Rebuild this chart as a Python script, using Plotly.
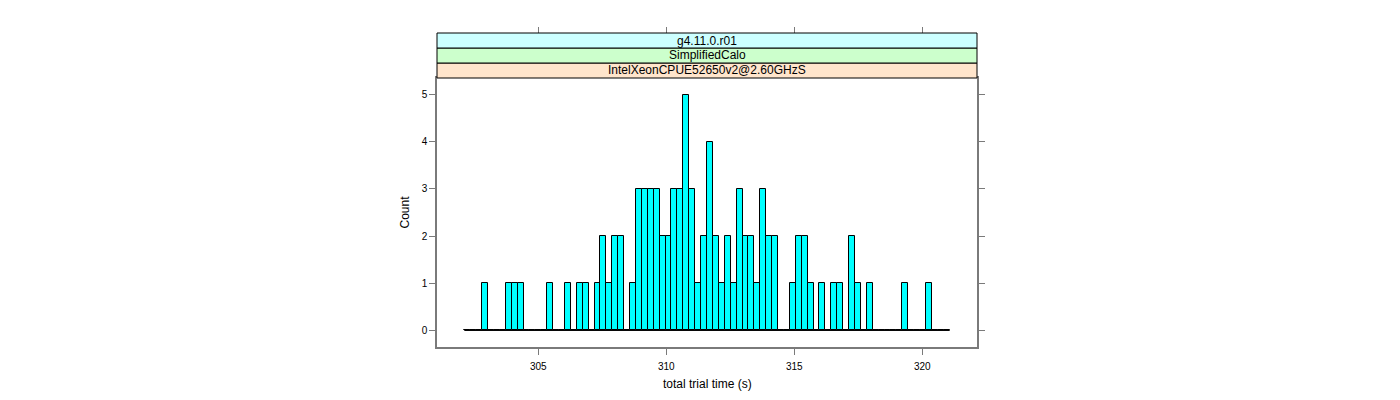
import numpy as np
import plotly.graph_objects as go

# ---------------- data ----------------
bin_lo = 302.11          # first histogram break
bin_hi = 321.07          # last histogram break
counts = [0, 0, 0, 1, 0, 0, 0, 1, 1, 1,
          0, 0, 0, 0, 1, 0, 0, 1, 0, 1,
          1, 0, 1, 2, 1, 2, 2, 0, 1, 3,
          3, 3, 3, 2, 2, 3, 3, 5, 3, 1,
          2, 4, 2, 1, 2, 1, 3, 2, 2, 1,
          3, 2, 2, 0, 0, 1, 2, 2, 1, 0,
          1, 0, 1, 1, 0, 2, 1, 0, 1, 0,
          0, 0, 0, 0, 1, 0, 0, 0, 1, 0,
          0, 0]
x_ticks = [305, 310, 315, 320]
y_ticks = [0, 1, 2, 3, 4, 5]
strip_labels = ["IntelXeonCPUE52650v2@2.60GHzS", "SimplifiedCalo", "g4.11.0.r01"]
strip_colors = ["#ffe5cc", "#ccffcc", "#ccffff"]
x_title = "total trial time (s)"
y_title = "Count"

# ---------------- derived ----------------
n_bins = len(counts)
edges = np.linspace(bin_lo, bin_hi, n_bins + 1)
centers = (edges[:-1] + edges[1:]) / 2
bw = edges[1] - edges[0]

OFF = 8                         # page body margin
W, H = 1400 - OFF, 400 - OFF
px_l, px_r = 437 - OFF, 977 - OFF   # panel left/right in figure pixels
px_t, px_b = 78 - OFF, 347 - OFF    # panel top/bottom in figure pixels
strip_h = 15

xdom = [px_l / W, px_r / W]
ydom = [1 - px_b / H, 1 - px_t / H]
x_range = [301.043, 322.137]
y_range = [-0.35, 5.35]

FONT = "Liberation Sans, Arial, Helvetica, sans-serif"
AXCOL = "#7a7a7a"

fig = go.Figure()

fig.add_trace(go.Bar(
    x=centers, y=counts, width=bw,
    marker=dict(color="#00FFFF", line=dict(color="black", width=1)),
    hoverinfo="x+y", showlegend=False,
))
fig.add_trace(go.Scatter(
    x=[edges[0], edges[-1]], y=[0, 0], mode="lines",
    line=dict(color="black", width=1), hoverinfo="skip", showlegend=False,
))
# carrier trace for the top tick axis
fig.add_trace(go.Scatter(
    x=[edges[0]], y=[0], mode="markers", marker=dict(opacity=0),
    xaxis="x2", yaxis="y", hoverinfo="skip", showlegend=False,
))

shapes = []
annotations = []
for i, (lab, col) in enumerate(zip(strip_labels, strip_colors)):
    y0 = 1 - (px_t - i * strip_h) / H
    y1 = 1 - (px_t - (i + 1) * strip_h) / H
    shapes.append(dict(type="rect", xref="paper", yref="paper",
                       x0=xdom[0], x1=xdom[1], y0=y0, y1=y1,
                       fillcolor=col, line=dict(color="black", width=1),
                       layer="above"))
    annotations.append(dict(text=lab, xref="paper", yref="paper",
                            x=(xdom[0] + xdom[1]) / 2, y=(y0 + y1) / 2,
                            showarrow=False, xanchor="center", yanchor="middle",
                            font=dict(family=FONT, size=12, color="black")))

annotations.append(dict(text=x_title, xref="paper", yref="paper",
                        x=(xdom[0] + xdom[1]) / 2, y=1 - (384 - OFF) / H,
                        showarrow=False, xanchor="center", yanchor="middle",
                        font=dict(family=FONT, size=12, color="black")))
annotations.append(dict(text=y_title, xref="paper", yref="paper",
                        x=(405 - OFF) / W, y=(ydom[0] + ydom[1]) / 2, textangle=-90,
                        showarrow=False, xanchor="center", yanchor="middle",
                        font=dict(family=FONT, size=12, color="black")))

top_tick_y = 1 - (px_t - 3 * strip_h) / H

fig.update_layout(
    width=W, height=H,
    margin=dict(l=0, r=0, t=0, b=0),
    paper_bgcolor="white", plot_bgcolor="white",
    bargap=0,
    font=dict(family=FONT, size=10, color="black"),
    xaxis=dict(domain=xdom, range=x_range, tickvals=x_ticks,
               ticks="outside", ticklen=6, tickcolor=AXCOL, tickwidth=1,
               ticklabelstandoff=3,
               showline=True, linecolor=AXCOL, linewidth=1.5, mirror=True,
               showgrid=False, zeroline=False,
               tickfont=dict(family=FONT, size=10, color="black")),
    xaxis2=dict(overlaying="x", anchor="free", position=top_tick_y,
                side="top", range=x_range, tickvals=x_ticks,
                ticks="outside", ticklen=6, tickcolor=AXCOL, tickwidth=1,
                showticklabels=False, showline=False, showgrid=False,
                zeroline=False),
    yaxis=dict(domain=ydom, range=y_range, tickvals=y_ticks,
               ticks="outside", ticklen=6, tickcolor=AXCOL, tickwidth=1,
               showline=True, linecolor=AXCOL, linewidth=1.5, mirror="ticks",
               showgrid=False, zeroline=False,
               tickfont=dict(family=FONT, size=10, color="black")),
    shapes=shapes,
    annotations=annotations,
)

fig.write_html("out.html")
